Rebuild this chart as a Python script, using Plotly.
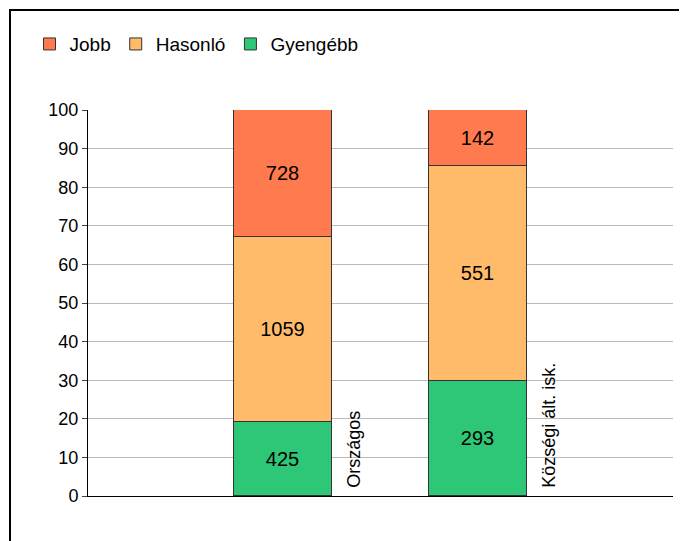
import plotly.graph_objects as go

categories = ["Országos", "Községi ált. isk."]
cat_pos = [1, 2]
gyengebb = [425, 293]
hasonlo = [1059, 551]
jobb = [728, 142]

totals = [a + b + c for a, b, c in zip(gyengebb, hasonlo, jobb)]
def pct(vals):
    return [v / t * 100 for v, t in zip(vals, totals)]

fig = go.Figure()
series = [("Gyengébb", gyengebb, "#2ec777"), ("Hasonló", hasonlo, "#ffbb6a"), ("Jobb", jobb, "#ff7a4e")]
for name, vals, col in series:
    fig.add_trace(go.Bar(
        x=cat_pos, y=pct(vals), name=name, width=0.5,
        marker=dict(color=col, line=dict(color="#333333", width=1)),
        text=[str(v) for v in vals], textposition="inside", insidetextanchor="middle",
        textfont=dict(size=20, color="black"),
    ))

for p, c in zip(cat_pos, categories):
    fig.add_annotation(x=p + 0.36, y=0, xref="x", yref="y", text=c, textangle=-90,
                       showarrow=False, xanchor="center", yanchor="bottom", yshift=6,
                       font=dict(size=18, color="black"))

W, H, L, R, T, B = 687, 541, 80, 22, 102, 53
pw, ph = W - L - R, H - T - B
fig.add_shape(type="rect", xref="paper", yref="paper",
              x0=-(L - 2) / pw, x1=1 + (R - 2) / pw, y0=-(B - 2) / ph, y1=1 + (T - 2) / ph,
              line=dict(color="black", width=2))

fig.update_layout(
    width=W, height=H, barmode="stack", plot_bgcolor="white", paper_bgcolor="white",
    font=dict(family="Liberation Sans, Arial", size=18, color="black"),
    margin=dict(l=L, r=R, t=T, b=B),
    legend=dict(orientation="h", x=-0.1, y=1.22, xanchor="left", yanchor="top",
                traceorder="reversed", font=dict(size=19)),
    xaxis=dict(range=[0, 3], showticklabels=False, showgrid=False, zeroline=False,
               showline=True, linecolor="black"),
    yaxis=dict(range=[0, 100], dtick=10, gridcolor="#bbbbbb", showline=True,
               linecolor="black", ticks="outside", ticklen=5, zeroline=False),
    bargap=0,
)
fig.write_html("out.html")
